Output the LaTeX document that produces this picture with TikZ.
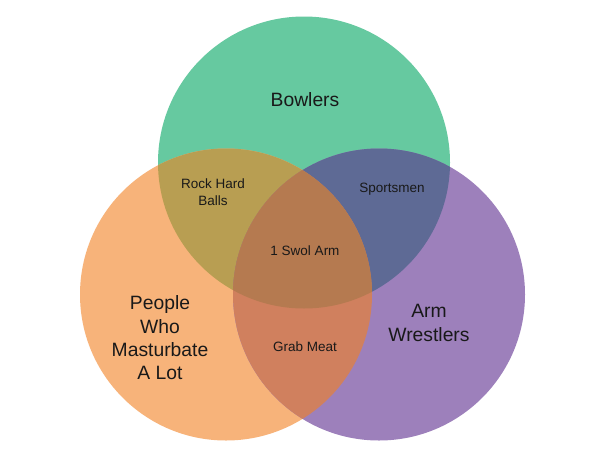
\documentclass[tikz,border=0pt]{standalone}
\usepackage{fontspec}
\setmainfont{Liberation Sans}
\definecolor{cg}{HTML}{66C9A0}
\definecolor{co}{HTML}{F7B37A}
\definecolor{cp}{HTML}{9D80BB}
\definecolor{cgo}{HTML}{B89E52}
\definecolor{cgp}{HTML}{5E6A95}
\definecolor{cop}{HTML}{D0805E}
\definecolor{cgop}{HTML}{B57A50}
\begin{document}
\begin{tikzpicture}[x=1pt,y=-1pt,
  big/.style={font=\fontsize{19.3}{23.3}\selectfont, align=center, text=black!90},
  small/.style={font=\fontsize{13.5}{16.5}\selectfont, align=center, text=black!90}]
\useasboundingbox (0,0) rectangle (610,458);
\fill[white] (0,0) rectangle (610,458);
\def\G{(304,162.5) circle[radius=146]}
\def\O{(226,294.5) circle[radius=146]}
\def\P{(379,294.5) circle[radius=146]}
\fill[cg] \G;
\fill[co] \O;
\fill[cp] \P;
\begin{scope}\clip \G; \fill[cgo] \O; \end{scope}
\begin{scope}\clip \G; \fill[cgp] \P; \end{scope}
\begin{scope}\clip \O; \fill[cop] \P; \end{scope}
\begin{scope}\clip \G; \clip \O; \fill[cgop] \P; \end{scope}
\node[big] (bowl) at (305,100) {Bowlers};
\node[big] (peop) at (160,338) {People\\Who\\Masturbate\\A Lot};
\node[big] (arm) at (429,323) {Arm\\Wrestlers};
\node[small] (rock) at (213,192) {Rock Hard\\Balls};
\node[small] (sport) at (392,189) {Sportsmen};
\node[small] (swol) at (305,251) {1 Swol Arm};
\node[small] (grab) at (305,347) {Grab Meat};
\end{tikzpicture}
\end{document}
